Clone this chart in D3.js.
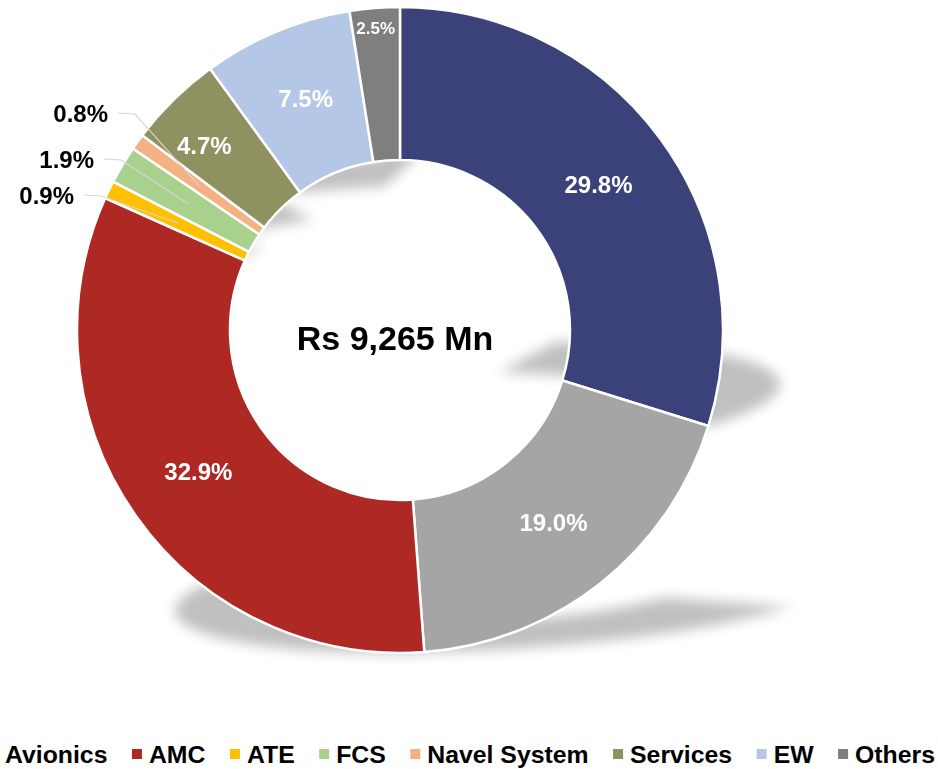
<!DOCTYPE html>
<html>
<head>
<meta charset="utf-8">
<script src="https://cdn.jsdelivr.net/npm/d3@7"></script>
<style>
  body { margin: 0; background: #fff; }
  text { font-family: "Liberation Sans", Arial, sans-serif; font-weight: bold; }
</style>
</head>
<body>
<div id="chart"></div>
<script>
// slice data, clockwise from 12 o'clock
// the 2nd slice (grey 19.0%) has no entry in the source legend
var categories = ["Avionics", "", "AMC", "ATE", "FCS", "Navel System", "Services", "EW", "Others"];
var shares = [29.8, 19.0, 32.9, 0.9, 1.9, 0.8, 4.7, 7.5, 2.5];
var colors = ["#3B4279", "#A5A5A5", "#AE2824", "#FFC000", "#A9D18E", "#F4B183", "#909160", "#B4C7E7", "#7F7F7F"];
var totalLabel = "Rs 9,265 Mn";

var width = 938, height = 769;
var cx = 400, cy = 330;
var outerR = 323, innerR = 170;

var svg = d3.select("#chart").append("svg")
    .attr("width", width)
    .attr("height", height);

var defs = svg.append("defs");
defs.append("filter")
    .attr("id", "blur")
    .attr("filterUnits", "userSpaceOnUse")
    .attr("x", -600).attr("y", -600).attr("width", 1600).attr("height", 1600)
  .append("feGaussianBlur")
    .attr("stdDeviation", 6.5);

var g = svg.append("g")
    .attr("transform", "translate(" + cx + "," + cy + ")");

var data = categories.map(function(c, i){ return {name: c, value: shares[i], color: colors[i]}; });

var pie = d3.pie().sort(null).value(function(d){ return d.value; });
var arcs = pie(data);

var arc = d3.arc().innerRadius(innerR).outerRadius(outerR);
var midArc = d3.arc().innerRadius((innerR + outerR) / 2).outerRadius((innerR + outerR) / 2);

// perspective shadow per slice: flatten towards the slice's bottom and lean right
var s = 0.2, k = 0.37;
var shadowG = g.append("g")
    .attr("filter", "url(#blur)")
    .attr("opacity", 0.25);

arcs.forEach(function(d){
    var p = shadowG.append("path")
        .attr("d", arc(d))
        .attr("fill", "#000");
    var bb = p.node().getBBox();
    var y0 = bb.y + bb.height;
    p.attr("transform", "matrix(1,0," + (-k) + "," + s + "," + (k * y0) + "," + ((1 - s) * y0) + ")");
});

g.selectAll("path.slice")
    .data(arcs)
    .enter().append("path")
    .attr("class", "slice")
    .attr("d", arc)
    .attr("fill", function(d){ return d.data.color; })
    .attr("stroke", "#fff")
    .attr("stroke-width", 2.5)
    .attr("stroke-linejoin", "round");

// labels inside the ring
var inside = arcs.filter(function(d){ return d.data.value >= 2; });
var nudge = { "Services": [-23, -9], "EW": [0, -4], "Others": [-5, -56] };
var sizeFix = { "Others": 17 };

g.selectAll("text.inlabel")
    .data(inside)
    .enter().append("text")
    .attr("class", "inlabel")
    .attr("x", function(d){ var n = nudge[d.data.name] || [0, 0]; return midArc.centroid(d)[0] + n[0]; })
    .attr("y", function(d){ var n = nudge[d.data.name] || [0, 0]; return midArc.centroid(d)[1] + n[1]; })
    .attr("dy", "0.36em")
    .attr("text-anchor", "middle")
    .attr("font-size", function(d){ return (sizeFix[d.data.name] || 24) + "px"; })
    .attr("fill", "#fff")
    .text(function(d){ return d.data.value.toFixed(1) + "%"; });

// small slices: labels out to the left with leader lines
var outside = arcs.filter(function(d){ return d.data.value < 2; });
var outPos = { "ATE": [-326, -135], "FCS": [-306, -171], "Navel System": [-292, -217] };

outside.forEach(function(d){
    var pos = outPos[d.data.name];
    var c = midArc.centroid(d);
    g.append("polyline")
        .attr("points", [[pos[0] + 10, pos[1]], [pos[0] + 27, pos[1] + 1], c].map(function(p){ return p.join(","); }).join(" "))
        .attr("fill", "none")
        .attr("stroke", "#D6D6D6")
        .attr("stroke-width", 1.2);
    g.append("text")
        .attr("x", pos[0])
        .attr("y", pos[1])
        .attr("dy", "0.36em")
        .attr("text-anchor", "end")
        .attr("font-size", "24px")
        .attr("fill", "#000")
        .text(d.data.value.toFixed(1) + "%");
});

g.append("text")
    .attr("x", -5)
    .attr("y", 8)
    .attr("dy", "0.36em")
    .attr("text-anchor", "middle")
    .attr("font-size", "34px")
    .attr("fill", "#000")
    .text(totalLabel);

// legend (first swatch falls off the left edge as in the source)
var legendData = data.filter(function(d){ return d.name !== ""; });
var legend = svg.append("g");
var lx = 5, ly = 754, sw = 10;
legendData.forEach(function(d){
    legend.append("rect")
        .attr("x", lx - 7 - sw)
        .attr("y", ly - sw / 2)
        .attr("width", sw)
        .attr("height", sw)
        .attr("fill", d.color);
    var t = legend.append("text")
        .attr("x", lx)
        .attr("y", ly)
        .attr("dy", "0.36em")
        .attr("font-size", "24.8px")
        .attr("fill", "#000")
        .text(d.name);
    lx += t.node().getComputedTextLength() + 24.5 + sw + 7;
});
</script>
</body>
</html>
